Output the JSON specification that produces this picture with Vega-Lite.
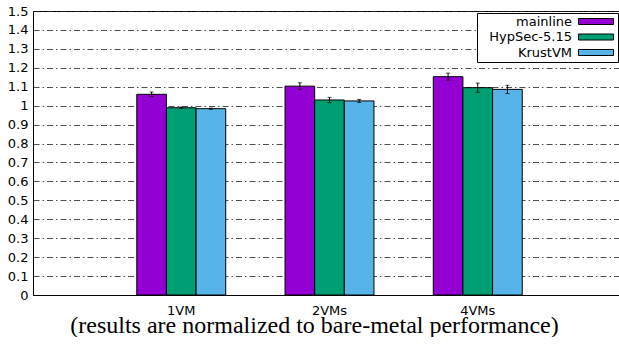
{
  "$schema": "https://vega.github.io/schema/vega-lite/v6.json",
  "width": 593,
  "height": 284,
  "padding": {"left": 5, "top": 5, "right": 0, "bottom": 0},
  "background": "white",
  "config": {
    "view": {"stroke": "black", "strokeWidth": 1},
    "font": "DejaVu Sans"
  },
  "data": {
    "values": [
      {"config": "1VM", "system": "mainline", "value": 1.060, "lo": 1.048, "hi": 1.072},
      {"config": "1VM", "system": "HypSec-5.15", "value": 0.989, "lo": 0.985, "hi": 0.993},
      {"config": "1VM", "system": "KrustVM", "value": 0.984, "lo": 0.981, "hi": 0.987},
      {"config": "2VMs", "system": "mainline", "value": 1.103, "lo": 1.085, "hi": 1.121},
      {"config": "2VMs", "system": "HypSec-5.15", "value": 1.030, "lo": 1.016, "hi": 1.044},
      {"config": "2VMs", "system": "KrustVM", "value": 1.025, "lo": 1.017, "hi": 1.033},
      {"config": "4VMs", "system": "mainline", "value": 1.153, "lo": 1.134, "hi": 1.172},
      {"config": "4VMs", "system": "HypSec-5.15", "value": 1.095, "lo": 1.071, "hi": 1.119},
      {"config": "4VMs", "system": "KrustVM", "value": 1.086, "lo": 1.064, "hi": 1.108}
    ]
  },
  "encoding": {
    "x": {
      "field": "config", "type": "nominal",
      "sort": ["1VM", "2VMs", "4VMs"],
      "scale": {"paddingInner": 0.4, "paddingOuter": 0.7},
      "axis": {
        "labelAngle": 0, "labelFont": "DejaVu Sans", "labelFontSize": 13, "labelColor": "black",
        "labelPadding": 9, "ticks": false, "domain": true, "domainColor": "black",
        "title": "(results are normalized to bare-metal performance)",
        "titleFont": "Liberation Serif", "titleFontSize": 24, "titleFontWeight": "normal",
        "titleColor": "black", "titleX": 281, "titleY": 37, "titleAlign": "center",
        "titleBaseline": "alphabetic"
      }
    },
    "xOffset": {
      "field": "system", "type": "nominal",
      "sort": ["mainline", "HypSec-5.15", "KrustVM"],
      "scale": {"paddingInner": 0, "paddingOuter": 0}
    },
    "y": {
      "field": "value", "type": "quantitative",
      "scale": {"domain": [0, 1.5], "nice": false},
      "axis": {
        "values": [0, 0.1, 0.2, 0.3, 0.4, 0.5, 0.6, 0.7, 0.8, 0.9, 1, 1.1, 1.2, 1.3, 1.4, 1.5],
        "format": ".2~f", "title": null, "ticks": false, "labelOverlap": false,
        "labelFont": "DejaVu Sans", "labelFontSize": 13, "labelColor": "black",
        "labelPadding": 5, "minExtent": 28, "maxExtent": 28,
        "domainColor": "black",
        "grid": true, "gridColor": "#222", "gridWidth": 0.8, "gridDash": [6, 3, 1.5, 3],
        "zindex": 0
      }
    }
  },
  "layer": [
    {
      "mark": {"type": "bar", "stroke": "black", "strokeWidth": 1},
      "encoding": {
        "fill": {
          "field": "system", "type": "nominal",
          "sort": ["mainline", "HypSec-5.15", "KrustVM"],
          "scale": {"range": ["#9400d3", "#009e73", "#56b4e9"]},
          "legend": {
            "title": null, "orient": "none", "legendX": 444, "legendY": 2,
            "labelAlign": "right", "labelOffset": 80,
            "labelFont": "DejaVu Sans", "labelFontSize": 13, "labelColor": "black",
            "symbolType": "M23.25,-0.75H32V0.75H23.25Z", "symbolSize": 64,
            "symbolStrokeColor": "black", "symbolStrokeWidth": 1, "symbolOpacity": 1,
            "strokeColor": "black", "fillColor": "white", "padding": 2,
            "rowPadding": 1.5
          }
        }
      }
    },
    {
      "mark": {"type": "rule", "color": "black", "strokeWidth": 1},
      "encoding": {
        "y": {"field": "lo", "type": "quantitative"},
        "y2": {"field": "hi"}
      }
    },
    {
      "mark": {"type": "tick", "color": "black", "size": 4, "thickness": 1, "orient": "horizontal"},
      "encoding": {"y": {"field": "lo", "type": "quantitative"}}
    },
    {
      "mark": {"type": "tick", "color": "black", "size": 4, "thickness": 1, "orient": "horizontal"},
      "encoding": {"y": {"field": "hi", "type": "quantitative"}}
    }
  ]
}
